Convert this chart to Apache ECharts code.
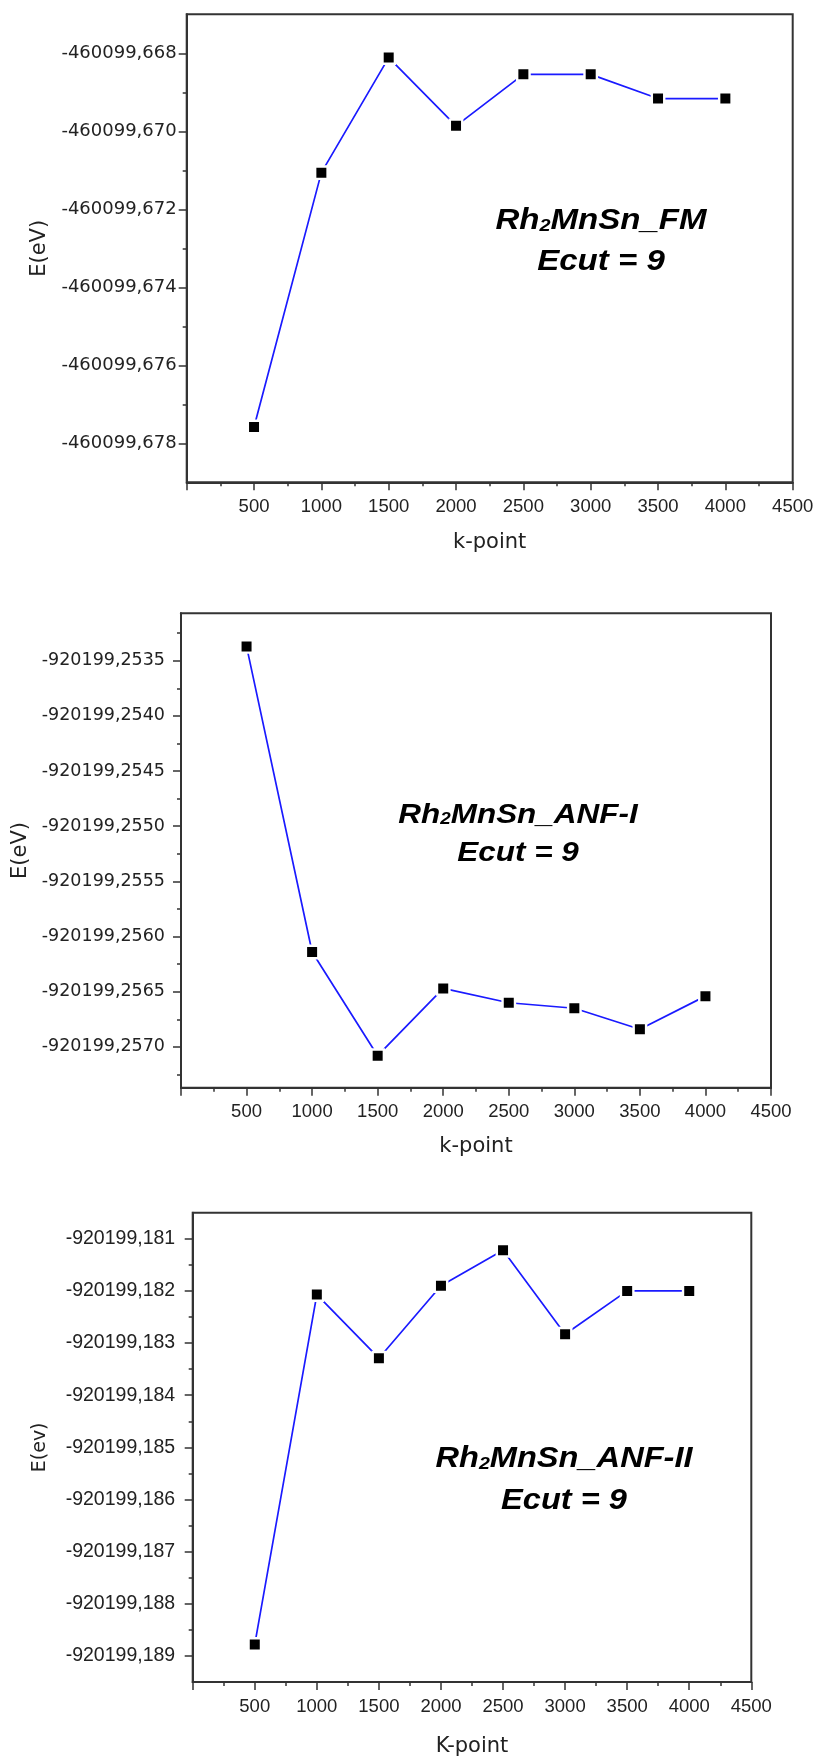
<!DOCTYPE html>
<html>
<head>
<meta charset="utf-8">
<script src="https://cdn.jsdelivr.net/npm/echarts@6/dist/echarts.min.js"></script>
<style>
  html, body { margin: 0; padding: 0; background: #fff; }
  #chart { width: 817px; height: 1760px; }
</style>
</head>
<body>
<div id="chart"></div>
<script>
// k-point convergence of the total energy of Rh2MnSn (Ecut = 9)
const kPoints = [500, 1000, 1500, 2000, 2500, 3000, 3500, 4000];

// total energy per k-point set, eV
const energyFM   = [-460099.67758, -460099.67106, -460099.66811, -460099.66986,
                    -460099.66854, -460099.66854, -460099.66916, -460099.66916];
const energyANF1 = [-920199.25337, -920199.25614, -920199.25708, -920199.25647,
                    -920199.25660, -920199.25665, -920199.25684, -920199.25654];
const energyANF2 = [-920199.18878, -920199.18207, -920199.18329, -920199.18190,
                    -920199.18122, -920199.18283, -920199.18200, -920199.18200];

// labelled ticks
const kTicks = [0, 500, 1000, 1500, 2000, 2500, 3000, 3500, 4000, 4500];
const fmTicks = [-460099.678, -460099.676, -460099.674, -460099.672, -460099.670, -460099.668];
const anf1Ticks = [-920199.2570, -920199.2565, -920199.2560, -920199.2555,
                   -920199.2550, -920199.2545, -920199.2540, -920199.2535];
const anf2Ticks = [-920199.189, -920199.188, -920199.187, -920199.186, -920199.185,
                   -920199.184, -920199.183, -920199.182, -920199.181];

const AXIS = '#333';
const TEXT = '#222';

// minor ticks sit halfway between labelled ticks
function halfTicks(ticks, min, max) {
  const step = ticks[1] - ticks[0];
  const out = [];
  const first = ticks[0] - step / 2;
  for (let i = 0; i <= ticks.length; i++) {
    const v = first + i * step;
    if (v > min + 1e-9 && v < max - 1e-9) out.push(v);
  }
  return out;
}

const panels = [
  {
    grid: { left: 186.7, top: 14.3, width: 606, height: 468 },
    data: energyFM, ticks: fmTicks, digits: 3,
    min: -460099.679, max: -460099.667,
    yName: 'E(eV)', yNameGap: 132, yNameSize: 21,
    yFont: 'DejaVu Sans', ySize: 18, yMargin: 10,
    xName: 'k-point', xNameGap: 50,
    title: [{ t: 'Rh', s: '2', r: 'MnSn_FM' }], tx: 601, ty1: 221, ty2: 262, tSize: 29
  },
  {
    grid: { left: 181, top: 613.3, width: 590, height: 474.4 },
    data: energyANF1, ticks: anf1Ticks, digits: 4,
    min: -920199.25737, max: -920199.25307,
    yName: 'E(eV)', yNameGap: 145, yNameSize: 21,
    yFont: 'DejaVu Sans', ySize: 17.5, yMargin: 16,
    xName: 'k-point', xNameGap: 48,
    title: [{ t: 'Rh', s: '2', r: 'MnSn_ANF-I' }], tx: 518, ty1: 815, ty2: 853, tSize: 27.6
  },
  {
    grid: { left: 192.7, top: 1212.7, width: 558.6, height: 469.3 },
    data: energyANF2, ticks: anf2Ticks, digits: 3,
    min: -920199.1895, max: -920199.1805,
    yName: 'E(ev)', yNameGap: 143, yNameSize: 19,
    yFont: 'Liberation Sans', ySize: 19.5, yMargin: 17.5,
    xName: 'K-point', xNameGap: 54,
    title: [{ t: 'Rh', s: '2', r: 'MnSn_ANF-II' }], tx: 564, ty1: 1459, ty2: 1501, tSize: 28.6
  }
];

const grids = [], xAxes = [], yAxes = [], series = [], graphics = [];

panels.forEach((p, i) => {
  grids.push(Object.assign({
    show: true, borderColor: AXIS, borderWidth: 2, backgroundColor: '#fff', containLabel: false
  }, p.grid));

  xAxes.push({
    type: 'value', gridIndex: i, position: 'bottom',
    min: kTicks[0], max: kTicks[kTicks.length - 1], interval: kTicks[1] - kTicks[0],
    axisLine: { show: true, onZero: false, lineStyle: { color: AXIS, width: 2 } },
    axisTick: { show: true, inside: false, length: 8, lineStyle: { color: AXIS, width: 1.5 } },
    minorTick: { show: true, splitNumber: 2, length: 4, lineStyle: { color: AXIS, width: 1.5 } },
    splitLine: { show: false }, minorSplitLine: { show: false },
    axisLabel: {
      color: TEXT, fontFamily: 'Liberation Sans', fontSize: 18.5, margin: 15,
      formatter: v => (v === 0 ? '' : String(v))
    },
    name: p.xName, nameLocation: 'middle', nameGap: p.xNameGap,
    nameTextStyle: { color: TEXT, fontFamily: 'DejaVu Sans', fontSize: 21 }
  });

  const yMain = yAxes.length;
  // labelled ticks
  yAxes.push({
    type: 'value', gridIndex: i, position: 'left', min: p.min, max: p.max,
    axisLine: { show: true, onZero: false, lineStyle: { color: AXIS, width: 2 } },
    axisTick: { show: true, inside: false, length: 8, customValues: p.ticks,
                lineStyle: { color: AXIS, width: 1.5 } },
    axisLabel: {
      customValues: p.ticks, color: TEXT, fontFamily: p.yFont, fontSize: p.ySize, margin: p.yMargin,
      formatter: v => Number(v).toFixed(p.digits).replace('.', ',')
    },
    splitLine: { show: false },
    name: p.yName, nameLocation: 'middle', nameGap: p.yNameGap,
    nameTextStyle: { color: TEXT, fontFamily: 'DejaVu Sans', fontSize: p.yNameSize }
  });
  // unlabelled half-step ticks
  yAxes.push({
    type: 'value', gridIndex: i, position: 'left', min: p.min, max: p.max,
    axisLine: { show: false },
    axisTick: { show: true, inside: false, length: 4, customValues: halfTicks(p.ticks, p.min, p.max),
                lineStyle: { color: AXIS, width: 1.5 } },
    axisLabel: { show: false },
    splitLine: { show: false }
  });

  series.push({
    type: 'line', xAxisIndex: i, yAxisIndex: yMain,
    data: kPoints.map((k, j) => [k, p.data[j]]),
    symbol: 'rect', symbolSize: 12.4,
    itemStyle: { color: '#000', borderColor: '#fff', borderWidth: 2.4 },
    lineStyle: { color: '#1a1aff', width: 1.7 },
    emphasis: { disabled: true },
    animation: false, z: 3
  });

  const t = p.title[0];
  const baseFont = { fontFamily: 'Liberation Sans', fontWeight: 'bold', fontStyle: 'italic', fill: '#000' };
  graphics.push({
    type: 'text', x: p.tx, y: p.ty1, scaleX: 1.14, z: 10,
    style: {
      text: '{a|' + t.t + '}{b|' + t.s + '}{a|' + t.r + '}',
      align: 'center', verticalAlign: 'middle',
      rich: {
        a: Object.assign({ fontSize: p.tSize }, baseFont),
        b: Object.assign({ fontSize: p.tSize * 0.6, verticalAlign: 'bottom', padding: [0, 0, 1, 0] }, baseFont)
      }
    }
  });
  graphics.push({
    type: 'text', x: p.tx, y: p.ty2, scaleX: 1.14, z: 10,
    style: Object.assign({
      text: 'Ecut = 9', align: 'center', verticalAlign: 'middle', fontSize: p.tSize
    }, baseFont)
  });
});

const chart = echarts.init(document.getElementById('chart'), null, { renderer: 'canvas' });
chart.setOption({
  animation: false,
  backgroundColor: '#fff',
  grid: grids,
  xAxis: xAxes,
  yAxis: yAxes,
  series: series,
  graphic: { elements: graphics }
});
</script>
</body>
</html>
